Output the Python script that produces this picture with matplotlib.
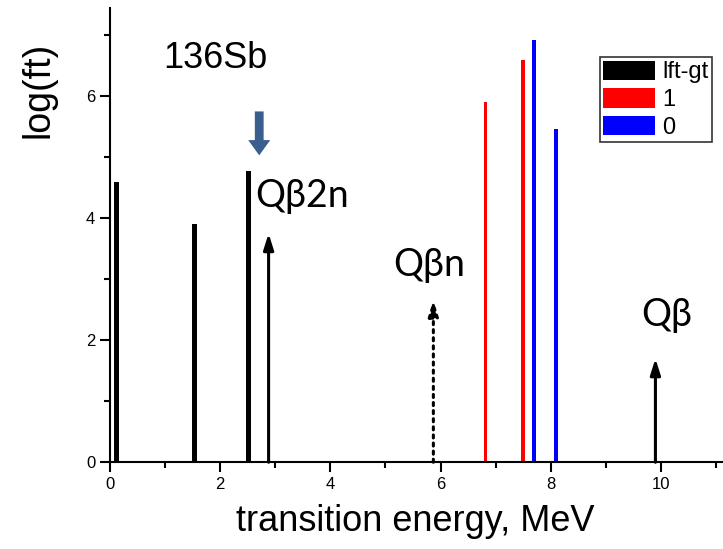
import matplotlib
matplotlib.use('Agg')
import numpy as np
from matplotlib import pyplot as plt
from matplotlib.patches import Patch, FancyArrow

plt.rcParams['font.family'] = ['Liberation Sans', 'DejaVu Sans']

# transition energies (MeV) and log(ft) values
gt_energy = [0.12, 1.54, 2.52]
gt_logft = [4.60, 3.91, 4.77]
red_energy = [6.82, 7.50]
red_logft = [5.90, 6.59]
blue_energy = [7.70, 8.10]
blue_logft = [6.92, 5.46]

legend_labels = ['lft-gt', '1', '0']

# Q-value markers
q_names = ['Q\u03b22n', 'Q\u03b2n', 'Q\u03b2']
q_energy = [2.88, 5.87, 9.90]
q_tip = [3.75, 2.66, 1.70]
q_styles = ['solid', 'dotted', 'solid']

fig = plt.figure(figsize=(7.23, 5.49), dpi=100)
ax = fig.add_axes([0.152, 0.158, 0.846, 0.828])

ax.bar(gt_energy, gt_logft, width=0.085, color='black')
ax.bar(red_energy, red_logft, width=0.065, color='#ff0000')
ax.bar(blue_energy, blue_logft, width=0.065, color='#0000ff')

for e, tip, ls in zip(q_energy, q_tip, q_styles):
    ax.annotate('', xy=(e, tip), xytext=(e, 0),
                arrowprops=dict(arrowstyle='-|>,head_length=0.95,head_width=0.3',
                                color='black', lw=2.2, linestyle=ls,
                                mutation_scale=10, shrinkA=0, shrinkB=0))

qfont = ['Lato', 'DejaVu Sans']
ax.text(2.63, 4.37, q_names[0], fontsize=27, family=qfont, ha='left', va='center')
ax.text(5.79, 3.24, q_names[1], fontsize=27, family=qfont, ha='center', va='center')
ax.text(10.1, 2.42, q_names[2], fontsize=27, family=qfont, ha='center', va='center')
ax.text(0.96, 6.62, '136Sb', fontsize=26, ha='left', va='center')

# thick blue pointer above 136Sb ground-state line
ax.add_patch(FancyArrow(2.71, 5.75, 0, -0.72, width=0.16, head_width=0.40,
                        head_length=0.25, length_includes_head=True,
                        color='#3a5f8f', lw=0))

ax.set_xlim(0, 11.1)
ax.set_ylim(0, 7.45)
ax.set_xticks([0, 2, 4, 6, 8, 10])
ax.set_xticks([1, 3, 5, 7, 9, 11], minor=True)
ax.set_yticks([0, 2, 4, 6])
ax.set_yticks([1, 3, 5, 7], minor=True)
ax.spines['top'].set_visible(False)
ax.spines['right'].set_visible(False)
ax.spines['left'].set_linewidth(1.5)
ax.spines['bottom'].set_linewidth(1.5)
ax.tick_params(which='major', direction='out', length=7, width=1.5, labelsize=12)
ax.tick_params(which='minor', direction='out', length=4, width=1.5)
for lab in ax.get_xticklabels() + ax.get_yticklabels():
    lab.set_family(['Liberation Sans Narrow', 'Liberation Sans'])

ax.set_xlabel('transition energy, MeV', fontsize=26)
ax.xaxis.set_label_coords(0.5, -0.092)
ax.set_ylabel('log(ft)', fontsize=27)
ax.yaxis.set_label_coords(-0.088, 0.82)

handles = [Patch(facecolor='black'), Patch(facecolor='#ff0000'), Patch(facecolor='#0000ff')]
leg = ax.legend(handles, legend_labels, loc='upper right',
                bbox_to_anchor=(712 / 723, 492 / 549), bbox_transform=fig.transFigure,
                fontsize=17, frameon=True, fancybox=False, edgecolor='black',
                handlelength=2.2, handleheight=0.9, handletextpad=0.3,
                labelspacing=0.2, borderpad=0.15, borderaxespad=0)
leg.get_frame().set_linewidth(1.2)

plt.savefig('out.png', dpi=100)
